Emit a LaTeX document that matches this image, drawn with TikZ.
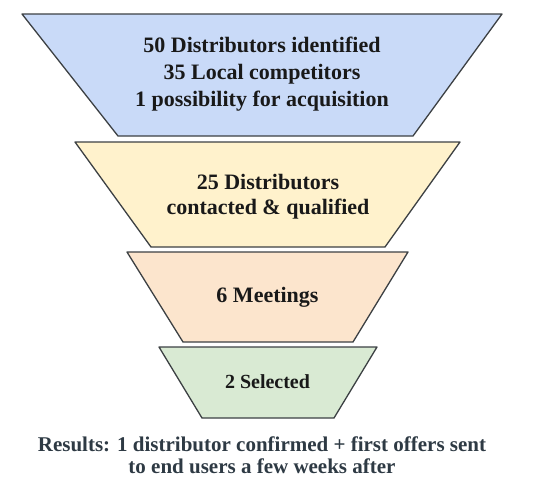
\documentclass[tikz,border=0pt]{standalone}
\usepackage{fontspec}
\setmainfont{Liberation Serif}

\definecolor{fblue}{HTML}{C9DAF8}
\definecolor{fyellow}{HTML}{FFF2CC}
\definecolor{forange}{HTML}{FCE5CD}
\definecolor{fgreen}{HTML}{D9EAD3}
\definecolor{fborda}{HTML}{3C4043}
\definecolor{ftexto}{HTML}{2E3A44}

\begin{document}
\begin{tikzpicture}[
    x=1pt, y=-1pt,
    % Degraus do funil
    degrau/.style={draw=fborda, line width=1.3pt, line join=round},
    % Textos dos degraus
    rotulo/.style={
        align=center, text=black!90,
        font=\fontsize{22}{27}\selectfont\bfseries
    },
    % Texto de resultado
    resultado/.style={
        align=center, text=ftexto,
        font=\fontsize{21}{22}\selectfont\bfseries
    }
]
\useasboundingbox (0,0) rectangle (535,485);

% ---- NÍVEL 1 ----
\draw[degrau, fill=fblue] (22,14) -- (502,14) -- (413,136) -- (118,136) -- cycle;
\node[rotulo] (t1) at (262, 74)
    {50 Distributors identified\\35 Local competitors\\1 possibility for acquisition};

% ---- NÍVEL 2 ----
\draw[degrau, fill=fyellow] (75,142) -- (460,142) -- (385,247) -- (151,247) -- cycle;
\node[rotulo, font=\fontsize{22}{25}\selectfont\bfseries] (t2) at (268, 197)
    {25 Distributors\\contacted \& qualified};

% ---- NÍVEL 3 ----
\draw[degrau, fill=forange] (127,252) -- (408,252) -- (353,342) -- (183,342) -- cycle;
\node[rotulo] (t3) at (267.5, 297) {6 Meetings};

% ---- NÍVEL 4 ----
\draw[degrau, fill=fgreen] (159,347) -- (377,347) -- (334,418) -- (202,418) -- cycle;
\node[rotulo, font=\fontsize{20}{22}\selectfont\bfseries] (t4) at (267.5, 382) {2 Selected};

% ---- RESULTADO ----
\node[resultado] (res) at (262, 455)
    {Results: 1 distributor confirmed + first offers sent\\to end users a few weeks after};

\end{tikzpicture}
\end{document}
